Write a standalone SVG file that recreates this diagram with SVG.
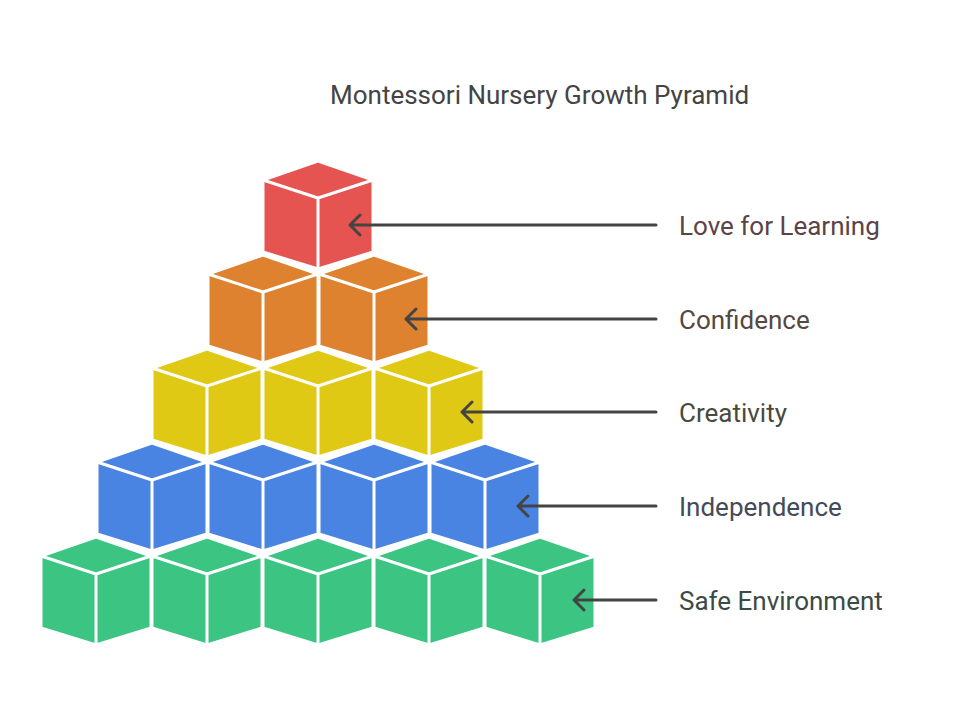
<svg xmlns="http://www.w3.org/2000/svg" width="975" height="724" viewBox="0 0 975 724">
<defs>
<style>
.c{stroke:#fff;stroke-width:3;stroke-linejoin:round}
.r{fill:#E55451}.o{fill:#DE822F}.y{fill:#E0C915}.b{fill:#4A84E3}.g{fill:#3CC482}
.a{stroke:#444;stroke-width:3;fill:none;stroke-linecap:round;stroke-linejoin:round}
text{font-family:Roboto,"Liberation Sans",sans-serif;font-size:26px}
</style>
<g id="cube">
<path d="M0,0 L55,19 L0,37 L-55,19 Z M-55,19 L0,37 L0,108 L-55,91 Z M0,37 L55,19 L55,91 L0,108 Z"/>
</g>
</defs>
<rect width="975" height="724" fill="#fff"/>
<text x="330" y="104" fill="#444">Montessori Nursery Growth Pyramid</text>
<g id="level-love" class="c r"><use href="#cube" x="318" y="161"/></g>
<g id="level-confidence" class="c o"><use href="#cube" x="263" y="255"/><use href="#cube" x="374" y="255"/></g>
<g id="level-creativity" class="c y"><use href="#cube" x="207" y="349"/><use href="#cube" x="318" y="349"/><use href="#cube" x="429" y="349"/></g>
<g id="level-independence" class="c b"><use href="#cube" x="152" y="443"/><use href="#cube" x="263" y="443"/><use href="#cube" x="374" y="443"/><use href="#cube" x="485" y="443"/></g>
<g id="level-safe" class="c g"><use href="#cube" x="96" y="537"/><use href="#cube" x="207" y="537"/><use href="#cube" x="318" y="537"/><use href="#cube" x="429" y="537"/><use href="#cube" x="540" y="537"/></g>
<g id="connectors" class="a">
<path d="M656,225 H350 M360,215 L350,225 L360,235"/>
<path d="M656,319 H406 M416,309 L406,319 L416,329"/>
<path d="M656,412 H462 M472,402 L462,412 L472,422"/>
<path d="M656,506 H518 M528,496 L518,506 L528,516"/>
<path d="M656,600 H574 M584,590 L574,600 L584,610"/>
</g>
<g id="labels">
<text x="679" y="235" fill="#5A4446">Love for Learning</text>
<text x="679" y="329" fill="#544840">Confidence</text>
<text x="679" y="422" fill="#4A4A3C">Creativity</text>
<text x="679" y="516" fill="#434A5A">Independence</text>
<text x="679" y="610" fill="#3C4A44">Safe Environment</text>
</g>
</svg>
